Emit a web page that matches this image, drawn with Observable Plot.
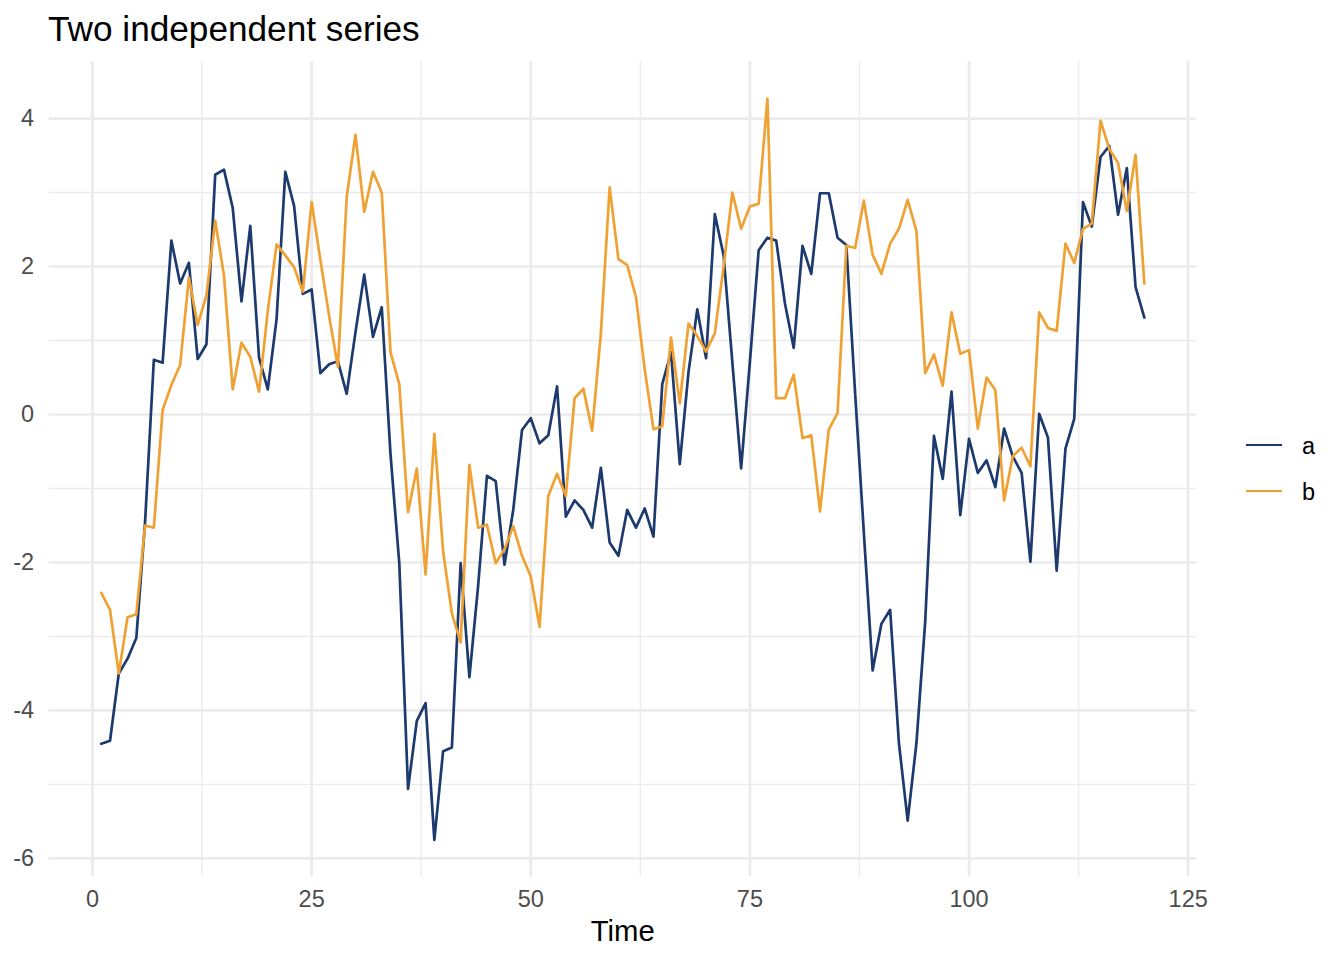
<!DOCTYPE html>
<html><head><meta charset="utf-8">
<script src="https://cdn.jsdelivr.net/npm/d3@7"></script>
<script src="https://cdn.jsdelivr.net/npm/@observablehq/plot@0.6"></script>
<style>
body{margin:0;background:#fff;font-family:"Liberation Sans",Arial,Helvetica,sans-serif;}
#wrap{position:relative;width:1344px;height:960px;overflow:hidden;background:#fff}
#title{position:absolute;left:48px;top:11px;font-size:35.2px;line-height:1;color:#000;white-space:nowrap}
#chart{position:absolute;left:0;top:52px}
#legend{position:absolute;left:1246px;top:0;width:98px;height:960px}
.key{position:absolute;left:0;width:36px;height:0;border-top-width:2.7px;border-top-style:solid}
.lab{position:absolute;left:56px;font-size:23.5px;line-height:1;color:#000}
</style></head><body>
<div id="wrap"><div id="title">Two independent series</div><div id="chart"></div><div id="legend"></div></div>
<script>
const time = d3.range(1, 121);
const seriesA = [
 -4.45,-4.41,-3.50,-3.30,-3.02,-1.45,0.74,0.70,2.35,1.77,
 2.05,0.75,0.95,3.24,3.31,2.79,1.53,2.55,0.77,0.34,
 1.29,3.28,2.82,1.63,1.69,0.56,0.68,0.72,0.28,1.11,
 1.89,1.05,1.45,-0.54,-2.01,-5.06,-4.14,-3.90,-5.75,-4.55,
 -4.50,-2.01,-3.55,-2.31,-0.83,-0.90,-2.03,-1.29,-0.21,-0.05,
 -0.39,-0.28,0.38,-1.38,-1.16,-1.29,-1.53,-0.72,-1.73,-1.91,
 -1.29,-1.53,-1.27,-1.65,0.41,0.84,-0.67,0.58,1.42,0.76,
 2.71,2.15,0.70,-0.73,0.71,2.22,2.39,2.35,1.50,0.90,
 2.28,1.90,2.99,2.99,2.39,2.29,0.30,-1.60,-3.46,-2.83,
 -2.64,-4.44,-5.49,-4.44,-2.80,-0.29,-0.87,0.31,-1.36,-0.33,
 -0.79,-0.62,-0.98,-0.19,-0.57,-0.79,-1.99,0.01,-0.31,-2.11,
 -0.46,-0.06,2.87,2.54,3.48,3.63,2.70,3.33,1.72,1.31
];
const seriesB = [
 -2.41,-2.64,-3.50,-2.74,-2.70,-1.50,-1.53,0.06,0.40,0.67,
 1.85,1.21,1.61,2.62,1.88,0.34,0.97,0.78,0.31,1.40,
 2.30,2.15,1.99,1.66,2.87,2.09,1.33,0.64,2.94,3.78,
 2.74,3.28,3.00,0.84,0.41,-1.32,-0.73,-2.16,-0.26,-1.85,
 -2.69,-3.08,-0.68,-1.53,-1.49,-2.01,-1.82,-1.51,-1.91,-2.19,
 -2.87,-1.10,-0.80,-1.10,0.22,0.35,-0.22,1.10,3.07,2.10,
 2.02,1.59,0.61,-0.20,-0.16,1.04,0.15,1.23,1.06,0.85,
 1.10,2.00,3.00,2.51,2.81,2.85,4.27,0.22,0.22,0.54,
 -0.32,-0.28,-1.31,-0.20,0.02,2.28,2.25,2.89,2.16,1.90,
 2.31,2.51,2.90,2.48,0.56,0.81,0.39,1.38,0.82,0.87,
 -0.19,0.50,0.33,-1.16,-0.56,-0.45,-0.70,1.38,1.17,1.13,
 2.31,2.05,2.51,2.58,3.97,3.59,3.40,2.75,3.51,1.77
];
const seriesNames = ["a", "b"];
const seriesColors = ["#1d3a6e", "#f0a134"];
const xMajor = [0, 25, 50, 75, 100, 125];
const xMinor = [12.5, 37.5, 62.5, 87.5, 112.5];
const yMajor = [-6, -4, -2, 0, 2, 4];
const yMinor = [-5, -3, -1, 1, 3];

const data = [];
[seriesA, seriesB].forEach((vals, s) => {
  time.forEach((t, i) => data.push({time: t, value: vals[i], series: seriesNames[s]}));
});
const xExt = d3.extent(time), xPad = (xExt[1] - xExt[0]) * 0.05;
const yExt = d3.extent(seriesA.concat(seriesB)), yPad = (yExt[1] - yExt[0]) * 0.05;
const font = '"Liberation Sans", Arial, Helvetica, sans-serif';

const chart = Plot.plot({
  width: 1344, height: 908,
  marginLeft: 48.6, marginRight: 148, marginTop: 9, marginBottom: 83.5,
  style: {fontFamily: font, background: "transparent", overflow: "visible"},
  x: {domain: [xExt[0] - xPad, xExt[1] + xPad]},
  y: {domain: [yExt[0] - yPad, yExt[1] + yPad]},
  color: {domain: seriesNames, range: seriesColors},
  marks: [
    Plot.gridX({ticks: xMinor, stroke: "#ebebeb", strokeOpacity: 1, strokeWidth: 1.35}),
    Plot.gridY({ticks: yMinor, stroke: "#ebebeb", strokeOpacity: 1, strokeWidth: 1.35}),
    Plot.gridX({ticks: xMajor, stroke: "#ebebeb", strokeOpacity: 1, strokeWidth: 2.7}),
    Plot.gridY({ticks: yMajor, stroke: "#ebebeb", strokeOpacity: 1, strokeWidth: 2.7}),
    Plot.axisY({ticks: yMajor, tickFormat: d => String(d), tickSize: 0, tickPadding: 15, fontSize: 23.5, color: "#4d4d4d", label: null}),
    Plot.axisX({ticks: xMajor, tickFormat: d => String(d), tickSize: 0, tickPadding: 13, fontSize: 23.5, color: "#4d4d4d", label: null}),
    Plot.axisX({ticks: [], label: "Time", labelAnchor: "center", labelArrow: "none", labelOffset: 64, fontSize: 29.3, color: "#000"}),
    Plot.line(data, {x: "time", y: "value", stroke: "series", strokeWidth: 2.7, strokeLinejoin: "round"})
  ]
});
document.getElementById("chart").appendChild(chart);

const legend = document.getElementById("legend");
const keyY = [445, 491];
seriesNames.forEach((name, i) => {
  const k = document.createElement("div");
  k.className = "key";
  k.style.top = (keyY[i] - 1.35) + "px";
  k.style.borderTopColor = seriesColors[i];
  legend.appendChild(k);
  const l = document.createElement("div");
  l.className = "lab";
  l.style.top = (keyY[i] + 10 - 19.9) + "px";
  l.textContent = name;
  legend.appendChild(l);
});
</script>
</body></html>
